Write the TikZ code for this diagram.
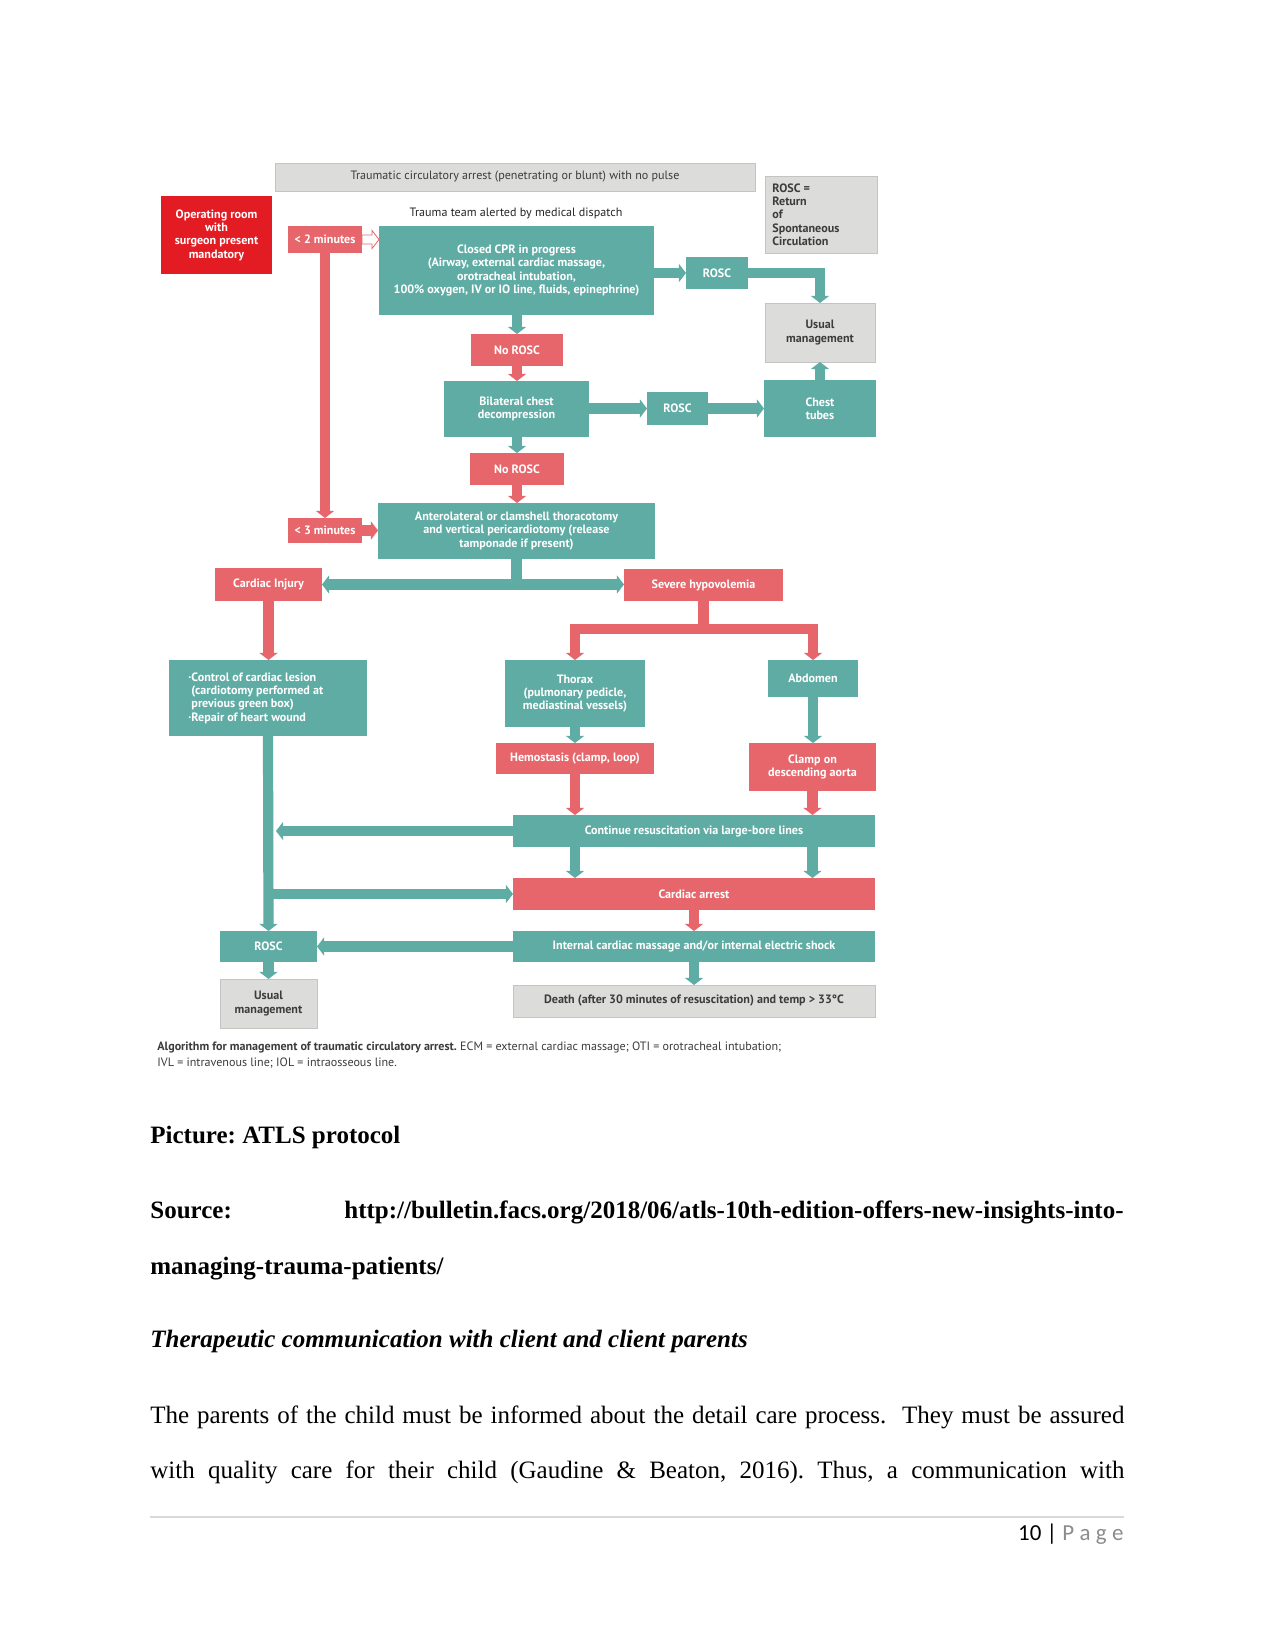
\documentclass[tikz,border=0pt]{standalone}
\usepackage{fontspec}
\setmainfont{Liberation Serif}
\newfontfamily\diagfont{PT Sans}
\newfontfamily\calfont{Carlito}
\usetikzlibrary{arrows.meta,calc}
\definecolor{tealc}{HTML}{5FACA4}
\definecolor{salm}{HTML}{E6666B}
\definecolor{opred}{HTML}{E31B23}
\definecolor{boxgray}{HTML}{DCDCDA}
\definecolor{boxedge}{HTML}{C4C4C2}
\definecolor{txtdark}{HTML}{3C3C3C}
\newcommand{\mkbox}[7]{\node[#1, minimum width={(#5-#3)*0.48pt}, minimum height={(#6-#4)*0.48pt}] (#2) at ({(#3+#5)/2},{(#4+#6)/2}) {#7};}
\begin{document}
\frenchspacing
\begin{tikzpicture}[x=0.48pt,y=-0.48pt,
  dfont/.style={font=\diagfont\bfseries\fontsize{5.8}{6.4}\selectfont},
  box/.style={inner sep=0pt, outer sep=0pt, align=center, dfont},
  tbox/.style={box, fill=tealc, text=white},
  rbox/.style={box, fill=salm, text=white},
  gbox/.style={box, fill=boxgray, draw=boxedge, line width=0.4pt, text=txtdark},
  tline/.style={draw=tealc, line width=4.9pt},
  rline/.style={draw=salm, line width=4.9pt},
  tarrow/.style={tline, -{Triangle[width=8.6pt,length=3.4pt]}},
  rarrow/.style={rline, -{Triangle[width=8.6pt,length=3.4pt]}},
  body/.style={font=\fontsize{12}{14}\selectfont, inner sep=0pt, anchor=base west}
]
\useasboundingbox[fill=white] (0,0) rectangle (1275,1650);

% ---------- boxes ----------
\mkbox{gbox, font=\diagfont\fontsize{5.8}{6.4}\selectfont}{top}{275}{163}{755}{191}
  {Traumatic circulatory arrest (penetrating or blunt) with no pulse}
\node[inner sep=0pt, text=black!85, font=\diagfont\fontsize{5.8}{6.4}\selectfont] (team) at (516,213)
  {Trauma team alerted by medical dispatch};
\mkbox{box, fill=opred, text=white}{opr}{161}{196}{272}{274}
  {Operating room\\with\\surgeon present\\mandatory}
\mkbox{rbox}{min2}{288}{226}{362}{253}{< 2 minutes}
\mkbox{tbox}{cpr}{379}{226}{654}{315}
  {Closed CPR in progress\\(Airway, external cardiac massage,\\orotracheal intubation,\\100\% oxygen, IV or IO line, fluids, epinephrine)}
\mkbox{gbox}{legend}{765}{176}{877}{253}{}
\node[inner sep=0pt, anchor=west, align=left, text=txtdark, dfont] (legendtxt)
  at ($(legend.west)+(7,0)$) {ROSC =\\Return\\of\\Spontaneous\\Circulation};
\mkbox{tbox}{rosc1}{686}{257}{748}{289}{ROSC}
\mkbox{gbox}{um1}{765}{303}{875}{362}{Usual\\management}
\mkbox{rbox}{norosc1}{471}{334}{563}{366}{No ROSC}
\mkbox{tbox}{bil}{444}{381}{589}{437}{Bilateral chest\\decompression}
\mkbox{tbox}{rosc2}{647}{392}{708}{425}{ROSC}
\mkbox{tbox}{chest}{764}{380}{876}{437}{Chest\\tubes}
\mkbox{rbox}{norosc2}{470}{453}{564}{485}{No ROSC}
\mkbox{rbox}{min3}{288}{518}{362}{543}{< 3 minutes}
\mkbox{tbox}{thor}{378}{503}{655}{559}
  {Anterolateral or clamshell thoracotomy\\and vertical pericardiotomy (release\\tamponade if present)}
\mkbox{rbox}{ci}{215}{568}{322}{601}{Cardiac Injury}
\mkbox{rbox}{sh}{624}{569}{783}{601}{Severe hypovolemia}
\mkbox{tbox}{ctrl}{169}{660}{367}{736}{}
\node[inner sep=0pt, anchor=west, align=left, text=white, dfont] (ctrltxt)
  at ($(ctrl.west)+(19,0)$)
  {·Control of cardiac lesion\\\phantom{·}(cardiotomy performed at\\\phantom{·}previous green box)\\·Repair of heart wound};
\mkbox{tbox}{thorax}{505}{660}{645}{727}{Thorax\\(pulmonary pedicle,\\mediastinal vessels)}
\mkbox{tbox}{abd}{768}{660}{858}{697}{Abdomen}
\mkbox{rbox}{hemo}{496}{743}{654}{774}{Hemostasis (clamp, loop)}
\mkbox{rbox}{clamp}{749}{743}{876}{791}{Clamp on\\descending aorta}
\mkbox{tbox}{cont}{513}{815}{875}{847}{Continue resuscitation via large-bore lines}
\mkbox{rbox}{carrest}{513}{878}{875}{910}{Cardiac arrest}
\mkbox{tbox}{icm}{513}{931}{875}{962}{Internal cardiac massage and/or internal electric shock}
\mkbox{gbox}{death}{513}{985}{875}{1017}{Death (after 30 minutes of resuscitation) and temp > 33°C}
\mkbox{tbox}{roscb}{220}{931}{317}{962}{ROSC}
\mkbox{gbox}{umb}{220}{979}{317}{1028}{Usual\\management}

% ---------- connectors ----------
\draw[salm, line width=0.4pt, fill=white]
  ($(min2.east)+(0,-4.5)$) -- ($(cpr.west |- min2.east)+(-7,-4.5)$) -- ($(cpr.west |- min2.east)+(-7,-9)$)
  -- (cpr.west |- min2.east) -- ($(cpr.west |- min2.east)+(-7,9)$) -- ($(cpr.west |- min2.east)+(-7,4.5)$)
  -- ($(min2.east)+(0,4.5)$) -- cycle;
\draw[tarrow] (cpr.east |- rosc1.west) -- (rosc1.west);
\draw[tarrow] (rosc1.east) -| (um1.north);
\draw[tarrow] (cpr.south -| norosc1.south) -- (norosc1.north);
\draw[rarrow] (norosc1.south) -- (bil.north -| norosc1.south);
\draw[tarrow] (bil.east |- rosc2.west) -- (rosc2.west);
\draw[tarrow] (rosc2.east) -- (chest.west |- rosc2.east);
\draw[tarrow] (chest.north) -- (um1.south);
\draw[tarrow] (bil.south -| norosc2.north) -- (norosc2.north);
\draw[rarrow] (norosc2.south) -- (thor.north -| norosc2.south);
\draw[rarrow] (min2.south -| 325,0) -- (min3.north -| 325,0);
\draw[rarrow] (min3.east) -- (thor.west |- min3.east);

\coordinate (j1) at (thor.south |- ci.east);
\draw[tline] (thor.south) -- (j1);
\draw[tarrow] (j1) -- (ci.east);
\draw[tarrow] (j1) -- (sh.west |- j1);

\coordinate (j2) at ($(sh.south)+(0,28)$);
\draw[rline] (sh.south) -- (j2);
\draw[rarrow] (j2) -| (thorax.north);
\draw[rarrow] (j2) -| (abd.north);

\draw[rarrow] (ci.south) -- (ctrl.north -| ci.south);
\draw[tarrow] (ctrl.south) -- (roscb.north);
\draw[tarrow] (thorax.south) -- (hemo.north -| thorax.south);
\draw[tarrow] (abd.south) -- (clamp.north -| abd.south);
\draw[rarrow] (hemo.south) -- (cont.north -| hemo.south);
\draw[rarrow] (clamp.south) -- (cont.north -| clamp.south);
\draw[tarrow] (cont.south -| hemo.south) -- (carrest.north -| hemo.south);
\draw[tarrow] (cont.south -| clamp.south) -- (carrest.north -| clamp.south);
\draw[tarrow] (cont.west) -- ($(ctrl.south |- cont.west)+(8,0)$);
\draw[tarrow] (ctrl.south |- carrest.west) -- (carrest.west);
\draw[rarrow] (carrest.south) -- (icm.north);
\draw[tarrow] (icm.west) -- (roscb.east);
\draw[tarrow] (roscb.south) -- (umb.north);
\draw[tarrow] (icm.south) -- (death.north);

% ---------- caption ----------
\node[inner sep=0pt, anchor=base west, text=txtdark, font=\diagfont\fontsize{5.8}{7}\selectfont] (cap1) at (157,1050)
  {{\bfseries Algorithm for management of traumatic circulatory arrest.} ECM = external cardiac massage; OTI = orotracheal intubation;};
\node[inner sep=0pt, anchor=base west, text=txtdark, font=\diagfont\fontsize{5.8}{7}\selectfont] (cap2) at (157,1066)
  {IVL = intravenous line; IOL = intraosseous line.};

% ---------- document text ----------
\node[body, font=\bfseries\fontsize{12}{14}\selectfont] (pic) at (150,1143) {Picture: ATLS protocol};
\node[body, font=\bfseries\fontsize{12}{14}\selectfont] (src) at (150,1218) {Source:};
\node[body, anchor=base east, font=\bfseries\fontsize{12}{14}\selectfont] (url) at (1124,1218)
  {http://bulletin.facs.org/2018/06/atls-10th-edition-offers-new-insights-into-};
\node[body, font=\bfseries\fontsize{12}{14}\selectfont] (url2) at (150,1274) {managing-trauma-patients/};
\node[body, font=\bfseries\itshape\fontsize{12}{14}\selectfont] (head) at (150,1347)
  {Therapeutic communication with client and client parents};
\node[body] (p1) at (150,1423)
  {\makebox[467.5pt][s]{The parents of the child must be informed about the detail care process.\ \ They must be assured}};
\node[body] (p2) at (150,1478)
  {\makebox[467.5pt][s]{with quality care for their child (Gaudine \& Beaton, 2016). Thus, a communication with}};
\draw[black!15, line width=0.6pt] (150,1517) -- (1124,1517);
\node[body, anchor=base east, font=\calfont\fontsize{11}{13}\selectfont] (page) at (1124,1540)
  {10 | {\color{black!45}P\hspace{2.6pt}a\hspace{2.6pt}g\hspace{2.6pt}e}};
\end{tikzpicture}
\end{document}
